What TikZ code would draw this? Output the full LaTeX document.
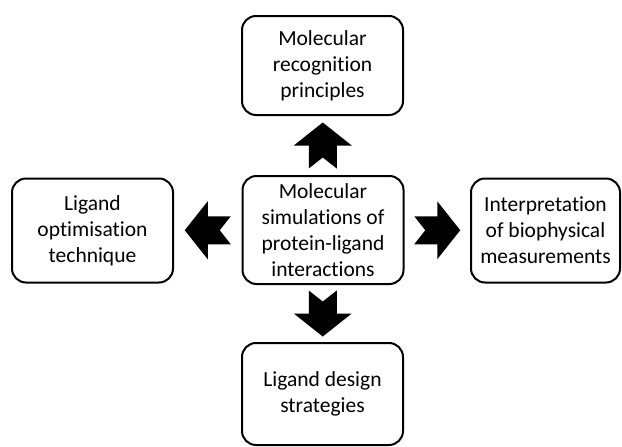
\documentclass[tikz,border=0pt]{standalone}
\usepackage{fontspec}
\setmainfont{Carlito}[Ligatures=NoCommon]
\usetikzlibrary{calc}

\tikzset{
  topic/.style={draw, line width=2pt, rounded corners=14pt, align=center,
    minimum width=161pt, minimum height=104pt, inner sep=2pt,
    font=\fontsize{21.5}{26}\selectfont},
  pics/fatarrow/.style={code={
    \fill (-23,14) -- (0,14) -- (0,29) -- (23,0) -- (0,-29) -- (0,-14)
      -- (-23,-14) -- (-12,0) -- cycle;
  }},
}

\begin{document}
\begin{tikzpicture}[x=1pt, y=-1pt]
\useasboundingbox (0,0) rectangle (622,447);

% boxes
\node[topic, minimum height=108pt] (sim) at (323,230)
  {Molecular\\simulations of\\protein-ligand\\interactions};
\node[topic, minimum height=99pt] (recog) at (322.5,65.5)
  {Molecular\\recognition\\principles};
\node[topic] (optim) at (92.5,230.5)
  {Ligand\\optimisation\\technique};
\node[topic, minimum width=149pt] (interp) at (545.5,230.5)
  {Interpretation\\of biophysical\\measurements};
\node[topic, minimum height=102pt] (design) at (322.5,394)
  {Ligand design\\strategies};

% block arrows
\pic[rotate=90]  at ($(sim.north)!0.5!(recog.south)$) {fatarrow};
\pic[rotate=-90] at ($(sim.south)!0.5!(design.north)$) {fatarrow};
\pic[rotate=180] at ($(sim.west)!0.5!(optim.east)$) {fatarrow};
\pic             at ($(sim.east)!0.5!(interp.west)$) {fatarrow};
\end{tikzpicture}
\end{document}
